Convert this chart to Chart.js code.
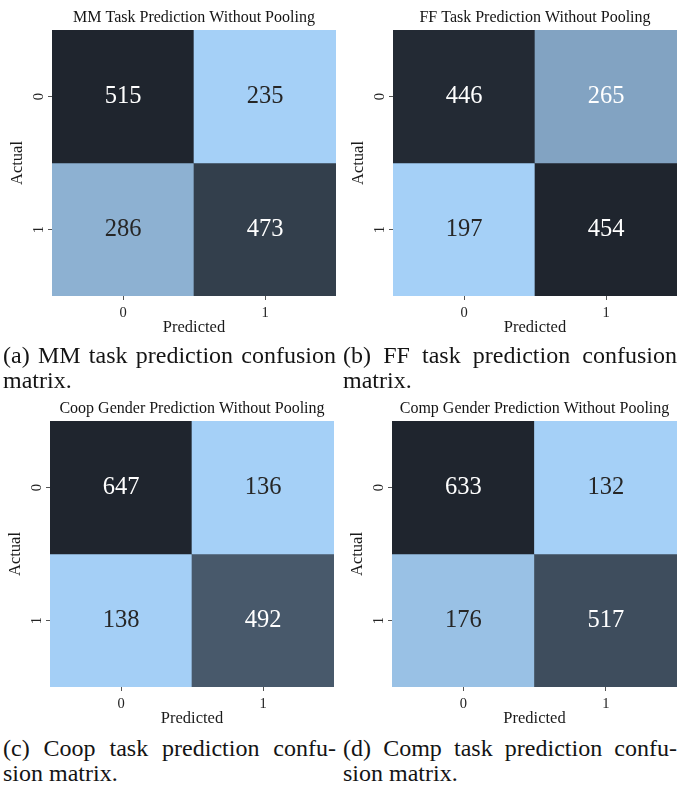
<!DOCTYPE html>
<html>
<head>
<meta charset="utf-8">
<script src="https://cdn.jsdelivr.net/npm/chart.js@4.4.1/dist/chart.umd.min.js"></script>
<style>
  html, body { margin: 0; padding: 0; background: #ffffff; }
  body {
    width: 683px; height: 791px; position: relative; overflow: hidden;
    font-family: "Liberation Serif", "Times New Roman", serif; color: #141414;
  }
  canvas.panel { position: absolute; }
  .caption { position: absolute; font-size: 24px; line-height: 25px; }
  .caption .full { text-align: justify; text-align-last: justify; }
</style>
</head>
<body>
<canvas id="mm" class="panel" width="340" height="342" style="left:0px;top:0px"></canvas>
<canvas id="ff" class="panel" width="340" height="342" style="left:341px;top:0px"></canvas>
<canvas id="coop" class="panel" width="340" height="342" style="left:-2px;top:391px"></canvas>
<canvas id="comp" class="panel" width="341" height="342" style="left:340px;top:391px"></canvas>

<div class="caption" style="left:3px;top:343px;width:333px">
  <div class="full">(a) MM task prediction confusion</div>
  <div>matrix.</div>
</div>
<div class="caption" style="left:343px;top:343px;width:334px">
  <div class="full">(b) FF task prediction confusion</div>
  <div>matrix.</div>
</div>
<div class="caption" style="left:3px;top:736px;width:333px">
  <div class="full">(c) Coop task prediction confu-</div>
  <div>sion matrix.</div>
</div>
<div class="caption" style="left:343px;top:736px;width:334px">
  <div class="full">(d) Comp task prediction confu-</div>
  <div>sion matrix.</div>
</div>

<script>
// Axis categories
const predictedLabels = ['0', '1'];
const actualLabels = ['0', '1'];

// Confusion counts, rows = actual, columns = predicted
const mmCounts   = [[515, 235], [286, 473]];
const ffCounts   = [[446, 265], [197, 454]];
const coopCounts = [[647, 136], [138, 492]];
const compCounts = [[633, 132], [176, 517]];

// Panel titles
const mmTitle   = 'MM Task Prediction Without Pooling';
const ffTitle   = 'FF Task Prediction Without Pooling';
const coopTitle = 'Coop Gender Prediction Without Pooling';
const compTitle = 'Comp Gender Prediction Without Pooling';

const SERIF = "'Liberation Serif', 'Times New Roman', serif";
Chart.defaults.font.family = SERIF;
Chart.defaults.color = '#1e1e1e';

// Light-to-dark blue colormap, scaled to each matrix's own min/max
const LIGHT = [165, 208, 247];
const DARK = [31, 37, 46];
function cellColor(v, vmin, vmax) {
  const t = vmax === vmin ? 0 : (v - vmin) / (vmax - vmin);
  return LIGHT.map((c, i) => c + t * (DARK[i] - c));
}
function toCss(rgb) {
  return 'rgb(' + rgb.map(c => Math.round(c)).join(',') + ')';
}
function luminance(rgb) {
  const lin = rgb.map(c => {
    const s = c / 255;
    return s <= 0.03928 ? s / 12.92 : Math.pow((s + 0.055) / 1.055, 2.4);
  });
  return 0.2126 * lin[0] + 0.7152 * lin[1] + 0.0722 * lin[2];
}

// Writes each count in the middle of its cell
const cellLabels = {
  id: 'cellLabels',
  afterDatasetsDraw(chart) {
    const ctx = chart.ctx;
    ctx.save();
    ctx.font = "24.5px " + SERIF;
    ctx.textAlign = 'center';
    ctx.textBaseline = 'middle';
    chart.data.datasets.forEach((ds, r) => {
      chart.getDatasetMeta(r).data.forEach((bar, c) => {
        const p = bar.getCenterPoint();
        ctx.fillStyle = ds.textColors[c];
        ctx.fillText(String(ds.counts[c]), p.x, p.y);
      });
    });
    ctx.restore();
  }
};

function heatmap(id, title, counts) {
  const flat = counts.flat();
  const vmin = Math.min(...flat), vmax = Math.max(...flat);
  const datasets = counts.map((row, r) => {
    const rgbs = row.map(v => cellColor(v, vmin, vmax));
    return {
      label: actualLabels[r],
      data: predictedLabels.map(() => [r, r + 1]),
      counts: row,
      backgroundColor: rgbs.map(toCss),
      textColors: rgbs.map(rgb => luminance(rgb) > 0.408 ? '#262626' : '#ffffff'),
      borderWidth: 0,
      barPercentage: 1,
      categoryPercentage: 1,
      grouped: false
    };
  });

  return new Chart(document.getElementById(id), {
    type: 'bar',
    data: { labels: predictedLabels, datasets },
    plugins: [cellLabels],
    options: {
      responsive: false,
      animation: false,
      devicePixelRatio: 1,
      layout: { padding: { left: 0, right: 4, top: 0, bottom: 0 } },
      plugins: {
        legend: { display: false },
        tooltip: { enabled: false },
        title: {
          display: true,
          text: title,
          fullSize: false,
          color: '#141414',
          font: { size: 16, weight: 'normal' },
          padding: { top: 8.2, bottom: 2.6 }
        }
      },
      scales: {
        x: {
          type: 'category',
          offset: true,
          grid: { display: true, offset: false, drawOnChartArea: false, drawTicks: true, tickLength: 4, color: '#555' },
          border: { display: false },
          ticks: { font: { size: 14.5 }, color: '#222', padding: 4 },
          title: { display: true, text: 'Predicted', font: { size: 16.5 }, color: '#1a1a1a', padding: { top: 0, bottom: 4 } },
          afterFit: s => { s.height = 46; }
        },
        y: {
          type: 'linear',
          min: 0,
          max: actualLabels.length,
          reverse: true,
          afterBuildTicks: s => { s.ticks = actualLabels.map((_, i) => ({ value: i + 0.5 })); },
          grid: { display: true, drawOnChartArea: false, drawTicks: true, tickLength: 4, color: '#555' },
          border: { display: false },
          ticks: {
            callback: (v, i) => actualLabels[i],
            minRotation: 90, maxRotation: 90,
            crossAlign: 'center',
            autoSkip: false,
            font: { size: 14.5 }, color: '#222', padding: 5
          },
          title: { display: true, text: 'Actual', font: { size: 16.5 }, color: '#1a1a1a', padding: { top: 8, bottom: 0 } },
          afterFit: s => { s.width = 52; }
        }
      }
    }
  });
}

heatmap('mm', mmTitle, mmCounts);
heatmap('ff', ffTitle, ffCounts);
heatmap('coop', coopTitle, coopCounts);
heatmap('comp', compTitle, compCounts);
</script>
</body>
</html>
